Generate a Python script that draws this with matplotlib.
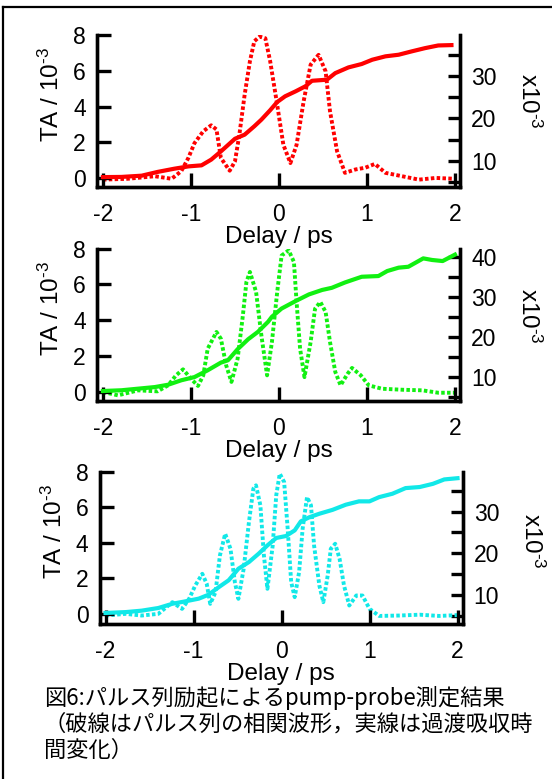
import numpy as np
import matplotlib.pyplot as plt
from matplotlib.ticker import MultipleLocator

plt.rcParams['font.family'] = ['Liberation Sans', 'DejaVu Sans']
plt.rcParams['axes.unicode_minus'] = False
plt.rcParams['mathtext.fontset'] = 'custom'
plt.rcParams['mathtext.rm'] = 'Liberation Sans'
plt.rcParams['mathtext.it'] = 'Liberation Sans:italic'

# transient absorption (solid, left axis, in 1e-3)
t_ta_1 = [-2.0, -1.79, -1.56, -1.38, -1.19, -1.03, -0.88, -0.77, -0.66, -0.50, -0.39, -0.28, -0.20, -0.10,
          -0.02, 0.07, 0.19, 0.30, 0.375, 0.545, 0.64, 0.79, 0.94, 1.06, 1.21, 1.36, 1.51, 1.66, 1.81, 1.96]
ta_1 = [0.05, 0.06, 0.13, 0.34, 0.52, 0.65, 0.71, 1.03, 1.49, 2.2, 2.43, 2.9, 3.27, 3.8,
        4.26, 4.58, 4.86, 5.14, 5.45, 5.51, 5.88, 6.2, 6.39, 6.63, 6.82, 6.91, 7.1, 7.28, 7.43, 7.45]

t_ta_2 = [-2.0, -1.79, -1.60, -1.41, -1.26, -1.11, -0.96, -0.81, -0.66, -0.58, -0.47, -0.35, -0.24, -0.125,
          -0.08, 0.03, 0.19, 0.34, 0.49, 0.60, 0.75, 0.94, 1.13, 1.23, 1.36, 1.47, 1.64, 1.74, 1.86, 2.0]
ta_2 = [0.03, 0.07, 0.16, 0.25, 0.38, 0.63, 0.81, 1.19, 1.62, 1.75, 2.37, 2.93, 3.34, 3.9,
        4.19, 4.65, 5.07, 5.44, 5.69, 5.81, 6.11, 6.43, 6.47, 6.75, 6.94, 6.99, 7.46, 7.37, 7.31, 7.67]

t_ta_3 = [-2.0, -1.77, -1.59, -1.40, -1.24, -1.09, -0.94, -0.83, -0.71, -0.60, -0.49, -0.37, -0.26, -0.16,
          -0.06, 0.05, 0.15, 0.22, 0.32, 0.43, 0.58, 0.73, 0.88, 1.0, 1.11, 1.26, 1.41, 1.57, 1.72, 1.85, 2.0]
ta_3 = [0.03, 0.08, 0.16, 0.31, 0.55, 0.69, 0.84, 1.06, 1.5, 1.88, 2.53, 2.91, 3.38, 3.85,
        4.27, 4.38, 4.7, 5.21, 5.45, 5.64, 5.86, 6.15, 6.34, 6.34, 6.58, 6.77, 7.09, 7.15, 7.33, 7.58, 7.65]

# pulse-train correlation (dotted, right axis, in 1e-3)
t_cc_1 = [-2.0, -1.72, -1.41, -1.22, -1.11, -1.03, -0.96, -0.86, -0.77, -0.71, -0.66, -0.56, -0.50, -0.45,
          -0.39, -0.33, -0.28, -0.22, -0.155, -0.10, -0.02, 0.05, 0.13, 0.20, 0.28, 0.36, 0.45, 0.53,
          0.58, 0.66, 0.75, 0.87, 0.98, 1.09, 1.21, 1.40, 1.59, 1.78, 2.0]
cc_1 = [5.6, 5.8, 6.4, 5.8, 7.6, 10.7, 14.2, 17.0, 18.4, 17.4, 10.7, 7.7, 9.9, 16.2,
        25.6, 33.5, 38.2, 39.3, 38.9, 33.5, 23.2, 13.8, 9.5, 13.8, 24.0, 32.7, 35.0, 31.1,
        21.7, 12.3, 7.2, 8.0, 8.4, 9.3, 7.2, 6.4, 5.6, 6.0, 5.8]

t_cc_2 = [-2.0, -1.83, -1.60, -1.38, -1.26, -1.17, -1.09, -1.00, -0.92, -0.86, -0.81, -0.71, -0.66, -0.60,
          -0.54, -0.47, -0.41, -0.37, -0.33, -0.26, -0.20, -0.135, -0.08, -0.02, 0.03, 0.11, 0.17, 0.20,
          0.24, 0.29, 0.36, 0.41, 0.47, 0.53, 0.58, 0.64, 0.70, 0.78, 0.83, 0.93, 1.02, 1.17, 1.40,
          1.63, 1.81, 2.0]
cc_2 = [6.2, 5.35, 6.6, 6.35, 7.85, 10.35, 11.85, 9.5, 7.7, 10.35, 17.0, 21.2, 19.5, 12.85,
        8.7, 14.5, 25.35, 33.7, 36.2, 31.2, 20.35, 10.35, 18.7, 31.2, 40.3, 41.6, 38.7, 28.7,
        17.0, 9.9, 18.7, 27.0, 28.7, 26.2, 18.7, 11.2, 7.85, 10.75, 12.2, 10.35, 7.85, 7.0, 6.75,
        6.6, 6.0, 6.0]

t_cc_3 = [-2.0, -1.77, -1.59, -1.40, -1.24, -1.13, -1.05, -0.98, -0.90, -0.85, -0.81, -0.75, -0.70, -0.64,
          -0.58, -0.53, -0.49, -0.43, -0.37, -0.32, -0.29, -0.24, -0.20, -0.16, -0.10, -0.06, -0.02,
          0.03, 0.07, 0.11, 0.15, 0.20, 0.24, 0.29, 0.335, 0.37, 0.43, 0.475, 0.525, 0.56, 0.61, 0.66,
          0.71, 0.77, 0.85, 0.92, 1.0, 1.11, 1.34, 1.57, 1.79, 2.0]
cc_3 = [5.1, 5.5, 5.1, 5.5, 8.3, 6.7, 9.1, 12.3, 15.1, 12.7, 7.9, 10.7, 19.5, 24.7,
        21.1, 13.1, 9.1, 16.3, 27.5, 35.5, 36.3, 31.5, 19.5, 11.5, 21.9, 33.9, 39.1,
        37.1, 25.9, 13.1, 9.5, 15.5, 25.9, 33.5, 31.5, 21.9, 12.3, 8.3, 14.7, 21.1, 22.3, 18.7,
        12.3, 7.5, 9.9, 9.9, 6.7, 5.0, 5.1, 5.3, 5.0, 5.2]

panels = [
    dict(t_ta=t_ta_1, ta=ta_1, t_cc=t_cc_1, cc=cc_1, color='#ff0000',
         rect=[0.1757, 0.7596, 0.6576, 0.1951], ylim=(-0.52, 8), y2lim=(3.8, 39.6),
         ylab_y=0.61, y2lab_y=0.57),
    dict(t_ta=t_ta_2, ta=ta_2, t_cc=t_cc_2, cc=cc_2, color='#11f011',
         rect=[0.1757, 0.4848, 0.6576, 0.1959], ylim=(-0.55, 8), y2lim=(3.85, 42.0),
         ylab_y=0.61, y2lab_y=0.56),
    dict(t_ta=t_ta_3, ta=ta_3, t_cc=t_cc_3, cc=cc_3, color='#11e8e8',
         rect=[0.1803, 0.1986, 0.6576, 0.1955], ylim=(-0.61, 8), y2lim=(3.0, 39.5),
         ylab_y=0.61, y2lab_y=0.55),
]

fig = plt.figure(figsize=(5.52, 7.79), dpi=100)

for p in panels:
    ax = fig.add_axes(p['rect'])
    ax2 = ax.twinx()
    ax.set_zorder(ax2.get_zorder() + 1)
    ax.patch.set_visible(False)

    ax2.plot(p['t_cc'], p['cc'], color=p['color'], lw=2.8, ls=(0, (0.9, 0.6)),
             dash_capstyle='butt')
    ax.plot(p['t_ta'], p['ta'], color=p['color'], lw=3.0, solid_joinstyle='round')

    ax.set_xlim(-2.068, 2.057)
    ax.set_ylim(*p['ylim'])
    ax2.set_ylim(*p['y2lim'])

    ax.set_xticks([-2, -1, 0, 1, 2])
    ax.set_yticks([0, 2, 4, 6, 8])
    ax2.yaxis.set_major_locator(MultipleLocator(10))
    ax2.yaxis.set_minor_locator(MultipleLocator(5))

    for a in (ax, ax2):
        a.spines['top'].set_visible(False)
        for s in a.spines.values():
            s.set_linewidth(2.4)
    ax.tick_params(axis='both', direction='in', length=10, width=2.4, labelsize=16.5, pad=8)
    ax.tick_params(axis='x', pad=11)
    ax2.tick_params(axis='y', which='both', direction='in', length=9, width=2.4,
                    labelsize=16.5, pad=8)
    ax2.tick_params(axis='y', which='minor', labelright=False)

    ax.set_xlabel('Delay / ps', fontsize=17.5, labelpad=0)
    ax.text(-0.125, p['ylab_y'], 'TA / 10$^{\\text{-}3}$', transform=ax.transAxes, rotation=90,
            ha='center', va='center', fontsize=17.5)
    ax2.text(1.19, p['y2lab_y'], 'x10$^{\\text{-}3}$', transform=ax.transAxes, rotation=270,
             ha='center', va='center', fontsize=17.5)

caption = ['図6:パルス列励起によるpump-probe測定結果',
           '（破線はパルス列の相関波形，実線は過渡吸収時',
           '間変化）']
for i, line in enumerate(caption):
    fig.text(44 / 552, 1 - (698 + 26 * i) / 779, line, fontsize=16, ha='left', va='center',
             family=['Noto Sans CJK JP', 'DejaVu Sans'])

# frame lines along the top and left edges
fig.add_artist(plt.Line2D([3 / 552, 1], [1 - 7 / 779, 1 - 7 / 779], color='black', lw=1.6))
fig.add_artist(plt.Line2D([3 / 552, 3 / 552], [0, 1 - 7 / 779], color='black', lw=1.6))

fig.savefig('out.png', dpi=100)
